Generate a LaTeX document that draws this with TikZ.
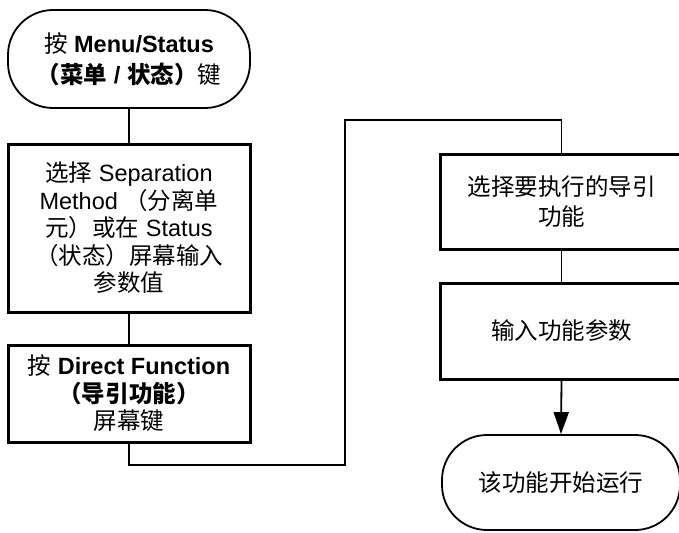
\documentclass[tikz,border=0pt]{standalone}
\usepackage{fontspec}
\setmainfont{Liberation Sans}
\newfontfamily\cjk{Noto Sans CJK SC}
\newcommand\zh[1]{{\cjk #1}}
\usetikzlibrary{arrows.meta}
\begin{document}
\begin{tikzpicture}[x=1pt,y=-1pt,
  box/.style={draw, line width=3pt, minimum width=242pt, minimum height=#1, inner sep=0pt, align=center, font=\fontsize{23.5}{27.5}\selectfont},
  term/.style={draw, line width=1.8pt, rounded corners=45pt, minimum width=242pt, minimum height=#1, inner sep=0pt, align=center, font=\fontsize{23.5}{31}\selectfont},
  conn/.style={line width=1.8pt}]
\clip (0,0) rectangle (679,532);
\node[term=98pt] (t1) at (129,59) {\zh{按} \textbf{Menu/Status}\\\textbf{\zh{（菜单} / \zh{状态）}}\zh{键}};
\node[box=168pt] (b2) at (129,228) {\zh{选择} Separation\\Method \zh{（分离单}\\\zh{元）或在} Status\\\zh{（状态）屏幕输入}\\\zh{参数值}};
\node[box=97pt] (b3) at (129,393.5) {\zh{按} \textbf{Direct Function}\\\textbf{\zh{（导引功能）}}\\\zh{屏幕键}};
\node[box=95pt, font=\fontsize{23.5}{30}\selectfont] (b4) at (561.5,201.5) {\zh{选择要执行的导引}\\\zh{功能}};
\node[box=96pt] (b5) at (561.5,331) {\zh{输入功能参数}};
\node[term=95pt, minimum width=238pt] (t2) at (561,482.5) {\zh{该功能开始运行}};
\coordinate (j1) at (345,465);
\coordinate (j2) at (345,120);
\draw[conn] (t1.south) -- (b2.north);
\draw[conn] (b2.south) -- (b3.north);
\draw[conn] (b3.south) |- (j1) -- (j2) -| (b4.north);
\draw[conn] (b4.south) -- (b5.north);
\draw[conn, -{Triangle[length=22pt,width=15pt]}] (b5.south) -- (t2.north);
\end{tikzpicture}
\end{document}
